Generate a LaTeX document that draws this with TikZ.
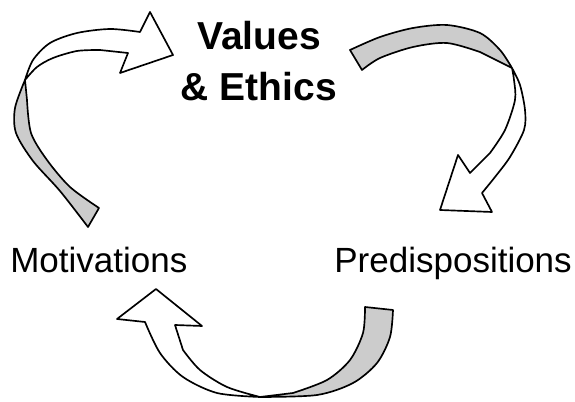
\documentclass[tikz,border=0pt]{standalone}
\usepackage{fontspec}
\setmainfont{Liberation Sans}
\begin{document}
\begin{tikzpicture}[x=0.75pt,y=-0.75pt,
    ribbon/.style={draw=black,line width=1.25pt,line join=round},
    front/.style={ribbon,fill=white},
    back/.style={ribbon,fill=black!20},
    caption/.style={inner sep=0pt,font=\fontsize{26.25}{31}\selectfont}]
\useasboundingbox (0,0) rectangle (575,402);

% texts
\node (values) [align=center,inner sep=0pt,font=\fontsize{29.25}{38.25}\selectfont\bfseries]
  at (259,61) {Values\\\& Ethics};
\node (motiv) [caption,anchor=base west] at (10,273) {Motivations};
\node (predisp) [caption,anchor=base east] at (572,273) {Predispositions};

% left arrow: Motivations -> Values
\filldraw[back] plot[smooth] coordinates {(88,227) (60,191) (33,161) (16,133) (15,108) (25,80)}
  -- plot[smooth] coordinates {(27,100) (31,133) (47,160) (70,187) (99,208)} -- cycle;
\filldraw[front] plot[smooth] coordinates {(25,80) (33,60) (50,43) (77,33) (110,29) (140,32)}
  -- (150,12) -- (173,55) -- (120,73) -- (128,53)
  -- plot[smooth] coordinates {(100,50) (77,51) (53,58) (37,67) (25,80)} -- cycle;

% right arrow: Values -> Predispositions
\filldraw[back] plot[smooth] coordinates {(350,50) (380,37) (413,28) (447,25) (480,33) (500,50) (512,68)}
  -- plot[smooth] coordinates {(480,52) (447,43) (413,47) (380,58) (362,70)} -- cycle;
\filldraw[front] plot[smooth] coordinates {(512,68) (520,85) (525,110) (524,130) (510,157) (495,177) (482,193)}
  -- (492,212) -- (440,210) -- (458,155) -- (470,173)
  -- plot[smooth] coordinates {(490,153) (505,130) (515,100) (514,80) (512,68)} -- cycle;

% bottom arrow: Predispositions -> Motivations
\filldraw[back] plot[smooth] coordinates {(393,310) (390,337) (377,363) (353,383) (317,395) (260,397)}
  -- plot[smooth] coordinates {(293,393) (327,380) (350,360) (363,333) (365,307)} -- cycle;
\filldraw[front] plot[smooth] coordinates {(260,397) (217,393) (183,377) (160,353) (145,322)}
  -- (117,319) -- (156,289) -- (202,326) -- (175,325)
  -- plot[smooth] coordinates {(183,350) (200,370) (227,387) (260,397)} -- cycle;

\end{tikzpicture}
\end{document}
